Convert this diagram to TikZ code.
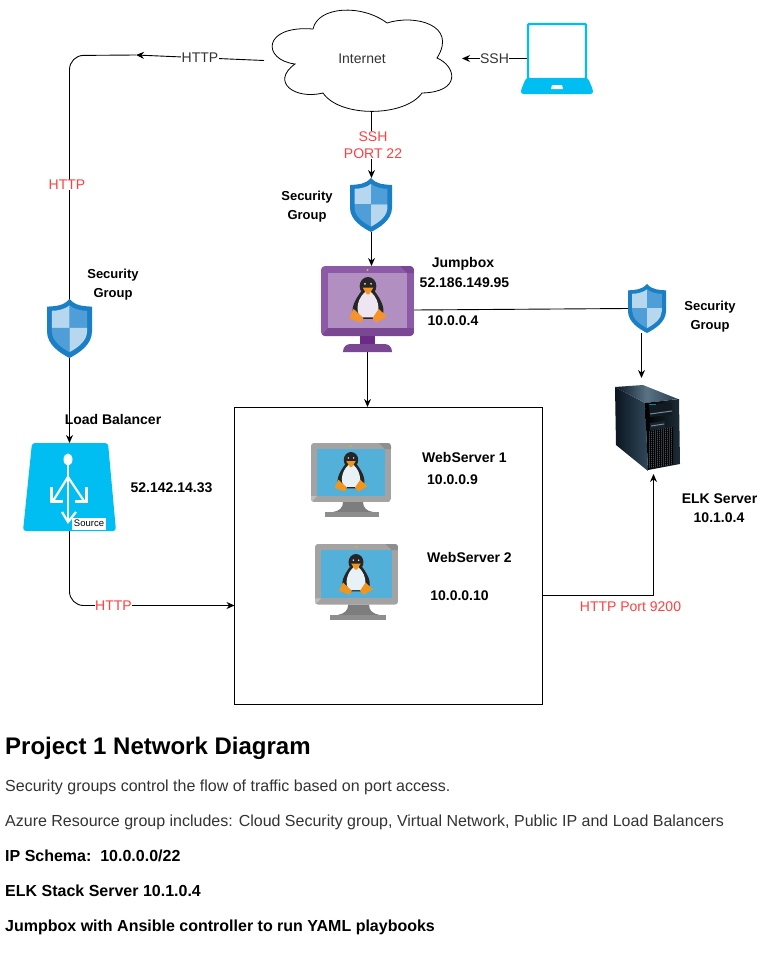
\documentclass[tikz,border=0pt]{standalone}
\usepackage{fontspec}
\setmainfont{Liberation Sans}
\usetikzlibrary{arrows.meta,shadings}
\definecolor{cyanlb}{HTML}{00BEF2}
\definecolor{netred}{HTML}{FF4040}
\definecolor{bodytxt}{HTML}{333333}
\definecolor{shO}{HTML}{1B7FC6}
\definecolor{shD}{HTML}{0F6CB8}
\definecolor{shL}{HTML}{B7D7EE}
\definecolor{shM}{HTML}{4F9ED8}
\newcommand{\fz}[1]{\fontsize{#1}{1.2\dimexpr #1pt\relax}\selectfont}
\tikzset{
  x=1pt,y=-1pt,
  anchorbox/.style={minimum width=#1,inner sep=0pt,outer sep=0pt},
  link/.style={draw=black,line width=0.9pt},
  arrowlink/.style={link,-{Stealth[length=8pt,width=7pt]}},
  blabel/.style={font=\fz{14}\bfseries,align=center,inner sep=0pt,text=black},
  glabel/.style={font=\fz{13}\bfseries,align=center,inner sep=0pt,text=black},
  wlabel/.style={font=\fz{14},fill=white,inner sep=0.4pt,text=bodytxt},
  rlabel/.style={font=\fz{14},fill=white,inner sep=0.4pt,text=netred,align=center},
  para/.style={font=\fz{16},anchor=base west,inner sep=0pt,text=bodytxt},
  parab/.style={font=\fz{16}\bfseries,anchor=base west,inner sep=0pt,text=black},
  shieldicon/.pic={
    \fill[shO] (0,0) .. controls (0.14,0.12) and (0.3,0.12) .. (0.5,0.13) -- (0.5,0.55)
      .. controls (0.5,0.78) and (0.2,0.92) .. (0,1) .. controls (-0.2,0.92) and (-0.5,0.78) .. (-0.5,0.55)
      -- (-0.5,0.13) .. controls (-0.3,0.12) and (-0.14,0.12) .. (0,0) -- cycle;
    \fill[shL] (0,0.11) .. controls (-0.1,0.17) and (-0.25,0.2) .. (-0.39,0.2) -- (-0.39,0.49) -- (0,0.49) -- cycle;
    \fill[shM] (0,0.11) .. controls (0.1,0.17) and (0.25,0.2) .. (0.39,0.2) -- (0.39,0.49) -- (0,0.49) -- cycle;
    \fill[shM] (-0.39,0.49) -- (0,0.49) -- (0,0.9) .. controls (-0.2,0.82) and (-0.39,0.7) .. (-0.39,0.55) -- cycle;
    \fill[shL] (0.39,0.49) -- (0,0.49) -- (0,0.9) .. controls (0.2,0.82) and (0.39,0.7) .. (0.39,0.55) -- cycle;
  },
  penguinicon/.pic={
    \fill[pdark] (0,24) ellipse [x radius=22,y radius=24];
    \fill[pdark] (-16,35) .. controls (-34,60) and (-50,85) .. (-34,110) -- (34,110) .. controls (50,85) and (34,60) .. (16,35) -- cycle;
    \fill[pbelly] (0,34) .. controls (-28,50) and (-36,92) .. (-18,106) -- (18,106) .. controls (36,92) and (28,50) .. (0,34) -- cycle;
    \fill[pbelly] (-8,18) circle (2.5) (8,18) circle (2.5);
    \fill[pfoot] (-14,28) -- (14,28) -- (3,46) -- (-3,46) -- cycle;
    \fill[pfoot] (-38,84) -- (-12,108) -- (-20,120) -- (-50,108) -- cycle;
    \fill[pfoot] (28,84) -- (50,104) -- (22,120) -- (12,108) -- cycle;
  },
  pmonitor/.pic={
    \begin{scope}
    \clip[rounded corners=4pt] (0,0) rectangle (93,70);
    \fill[pframe] (0,0) rectangle (93,70);
    \fill[pdeep] (93,0) -- (93,7) -- (86,7) -- (79,0) -- cycle;
    \fill[pdeep] (7,62) -- (93,62) -- (93,70) -- (0,70) -- cycle;
    \end{scope}
    \fill[pscreen] (7,7) rectangle (86,62);
    \fill[pneck] (39,70) rectangle (54,78);
    \fill[pdeep] (22,86) .. controls (22,80) and (26,78) .. (30,78) -- (63,78) .. controls (67,78) and (71,80) .. (71,86) -- cycle;
    \fill[pdot] (46.5,4) circle (1.2);
  },
  gmonitor/.pic={
    \begin{scope}
    \clip[rounded corners=3pt] (0,0) rectangle (80,59);
    \fill[gframe] (0,0) rectangle (80,59);
    \fill[gdeep] (80,0) -- (80,6) -- (74,6) -- (68,0) -- cycle;
    \fill[gframe!70!white] (0,59) -- (0,53) -- (6,53) -- (0,59) -- cycle;
    \end{scope}
    \fill[gscreen] (6,6) rectangle (74,53);
    \fill[gneck] (32,59) -- (52,59) .. controls (52,65) and (56,68) .. (62,69) -- (22,69) .. controls (28,68) and (32,65) .. (32,59) -- cycle;
    \fill[gdeep] (14,69) rectangle (68,74);
    \fill[pdot] (40,3) circle (1);
  }
}
\colorlet{pdark}{black!85}\colorlet{pbelly}{white}\colorlet{pfoot}{orange}
\definecolor{pdot}{HTML}{B6C832}
\definecolor{gframe}{HTML}{A3A3A3}\definecolor{gdeep}{HTML}{8E8E8E}\definecolor{gscreen}{HTML}{52B0D9}\definecolor{gneck}{HTML}{7D7D7D}
\definecolor{pframe}{HTML}{8C5AA6}\definecolor{pdeep}{HTML}{7A4793}\definecolor{pscreen}{HTML}{B28FC1}\definecolor{pneck}{HTML}{6B2A85}
\definecolor{srvA}{HTML}{0B1620}\definecolor{srvB}{HTML}{3C5A70}
\begin{document}
\begin{tikzpicture}
\useasboundingbox (0,0) rectangle (771,969);
\fill[white] (0,0) rectangle (771,969);

% ---- cloud
\draw[black,line width=0.8pt,fill=white]
  (313,29) .. controls (318,6) and (362,4) .. (387,23)
  .. controls (415,14) and (458,25) .. (437,58)
  .. controls (456,66) and (462,92) .. (422,93)
  .. controls (405,117) and (340,118) .. (323,93)
  .. controls (295,100) and (270,82) .. (295,64)
  .. controls (262,60) and (262,25) .. (313,29) -- cycle;
\node[anchorbox=189pt,minimum height=101pt] (cloud) at (358.5,60.5) {};
\node[font=\fz{14},text=bodytxt,inner sep=0pt] (cloudtxt) at (362,59) {Internet};
\coordinate (cloudE) at (462,58.5);

% ---- laptop
\draw[cyanlb,line width=2.4pt,rounded corners=1pt,fill=white] (528,24) rectangle (586,79);
\fill[cyanlb,rounded corners=2.5pt] (526,78) -- (588,78) -- (593,90) -- (593,94) -- (521,94) -- (521,90) -- cycle;
\fill[white] (551,89) -- (552,85) -- (562,85) -- (563,89) -- cycle;
\node[anchorbox=60pt,minimum height=70pt] (laptop) at (557,58.5) {};

% ---- shields
\node[anchorbox=42pt,minimum height=54pt] (shtop) at (371.5,205) {};
\pic[xscale=42,yscale=54] at (371,178) {shieldicon};
\node[anchorbox=45pt,minimum height=59pt] (shleft) at (69.5,328.5) {};
\pic[xscale=45,yscale=59] at (69.5,299) {shieldicon};
\node[anchorbox=38pt,minimum height=49pt] (shright) at (647,308.5) {};
\pic[xscale=38,yscale=49] at (647,284) {shieldicon};

% ---- jumpbox monitor
\node[anchorbox=93pt,minimum height=86pt] (jump) at (367.5,309) {};
\pic at (321,266) {pmonitor};
\begin{scope}
\definecolor{pbelly}{HTML}{EDE6F0}\definecolor{pfoot}{HTML}{F6932A}
\pic[scale=0.38] at (368,277) {penguinicon};
\end{scope}

% ---- web servers
\node[anchorbox=80pt,minimum height=74pt] (ws1) at (351,480) {};
\pic at (311,443) {gmonitor};
\node[anchorbox=83pt,minimum height=76pt] (ws2) at (356.5,582) {};
\pic[xscale=1.0375,yscale=1.027] at (315,544) {gmonitor};
\definecolor{pbelly}{HTML}{E8F2F6}\definecolor{pfoot}{HTML}{F0961E}
\pic[scale=0.33] at (351,452) {penguinicon};
\pic[scale=0.34] at (356,554) {penguinicon};

% ---- big box
\node[anchorbox=308pt,minimum height=297pt,draw=black,line width=0.9pt] (vnet) at (388.5,555.5) {};

% ---- load balancer
\fill[cyanlb,rounded corners=3pt] (32,443) -- (108,443) -- (116,531) -- (23,531) -- cycle;
\node[anchorbox=93pt,minimum height=88pt] (lb) at (69.5,487) {};
\begin{scope}[white,line width=2.2pt]
\fill (68,459.5) ellipse [x radius=4.5,y radius=6];
\draw (68,465) -- (68,522);
\draw (68,477) -- (53,501);
\draw (68,477) -- (84,501);
\draw (51.5,487) -- (51.5,501.5) -- (63,501.5);
\draw (86.5,487) -- (86.5,501.5) -- (75,501.5);
\draw (62,512) -- (68,522) -- (76,512);
\end{scope}
\node[fill=white,font=\fz{9.5},inner sep=0.5pt,minimum width=34pt,minimum height=12pt,text=black] (lbsrc) at (89,523.5) {Source};

% ---- ELK server
\shade[left color=srvA,right color=srvB!80!black] (615,387) -- (645,403) -- (648,471) -- (616,445) -- cycle;
\shade[left color=srvA,right color=srvB!70!black,middle color=srvB!85!white] (615,387) -- (643,385) -- (678,399) -- (645,403) -- cycle;
\shade[left color=black,right color=srvB!50!black] (645,403) -- (679,399) -- (680,464) -- (648,470) -- cycle;
\fill[black!70!srvB] (649,405) -- (672,403) -- (672,415) -- (650,417) -- cycle;
\fill[srvB!70!white] (650,413.5) -- (672,410.5) -- (672,411.5) -- (650,414.5) -- cycle;
\fill[black!60!srvB] (650,423) -- (665,421) -- (665,428) -- (650,430) -- cycle;
\fill[srvB!70!white] (651,425.5) -- (664,423.5) -- (664,424.5) -- (651,426.5) -- cycle;
\fill[cyanlb!70!black] (649,403.8) rectangle (656,405.2);
\begin{scope}
\clip (649,431) -- (673,427) -- (673,464.5) -- (649,468) -- cycle;
\fill[black!60!srvB!80!white] (649,426) rectangle (673,469);
\foreach \gx in {650,652,...,672} {\draw[black,line width=0.5pt] (\gx,426) -- (\gx,469);}
\foreach \gy in {430,432,...,470} {\draw[black,line width=0.5pt] (649,\gy) -- (673,\gy-3.5);}
\end{scope}
\node[anchorbox=65pt,minimum height=90pt] (elk) at (647.5,429) {};

% ---- connectors
\coordinate (httpbend) at (136,55);
\draw[arrowlink] (cloud.west) -- (httpbend) node[wlabel,pos=0.5] (lhttp) {HTTP};
\draw[link,rounded corners=14pt] (httpbend) -- (69.5,55.5) -- (69.5,299);
\node[rlabel] (lhttpr) at (67,185) {HTTP};

\draw[arrowlink] (laptop.west) -- (cloudE) node[wlabel,pos=0.5] (lssh) {SSH};

\draw[arrowlink] (cloud.south -| shtop) -- (shtop.north);
\node[rlabel] (lport) at (373,145) {SSH\\PORT 22};
\draw[arrowlink] (shtop.south) -- (jump.north -| shtop);
\draw[arrowlink] (jump.south) -- (vnet.north -| jump);
\draw[link] (414,310) -- (shright.west);
\draw[arrowlink] (641.5,333) -- (641.5,378);
\draw[arrowlink] (shleft.south) -- (lb.north -| shleft);
\draw[arrowlink,rounded corners=14pt] (lb.south) -- (69.5,605.5) -- (vnet.west |- 0,605.5);
\node[rlabel] (lhttpb) at (113.5,606) {HTTP};
\draw[arrowlink] (vnet.east |- 0,595.5) -- (653.5,595.5) -- (653.5,474);
\node[rlabel] (lelk) at (630.5,607) {HTTP Port 9200};

% ---- labels
\node[glabel] (t1) at (307,206.5) {Security\\[3.4pt]Group};
\node[glabel] (t2) at (113,284.5) {Security\\[3.4pt]Group};
\node[glabel] (t3) at (710,316.5) {Security\\[3.4pt]Group};
\node[blabel] (t4) at (463,263.5) {Jumpbox};
\node[blabel] (t5) at (464.5,282.5) {52.186.149.95};
\node[blabel] (t6) at (453,320.5) {10.0.0.4};
\node[blabel] (t7) at (113,419) {Load Balancer};
\node[blabel] (t8) at (171.5,488) {52.142.14.33};
\node[blabel] (t9) at (464.5,457) {WebServer 1};
\node[blabel] (t10) at (452.5,480) {10.0.0.9};
\node[blabel] (t11) at (469.5,557) {WebServer 2};
\node[blabel] (t12) at (459.5,595.5) {10.0.0.10};
\node[blabel] (t13) at (719.5,499) {ELK Server};
\node[blabel] (t14) at (719,518) {10.1.0.4};

% ---- text block
\node[font=\fz{24}\bfseries,anchor=base west,inner sep=0pt,text=black] (h1) at (5,754) {Project 1 Network Diagram};
\node[para] (p1) at (5,791) {Security groups control the flow of traffic based on port access.};
\node[para] (p2) at (5,826) {Azure Resource group includes: Cloud Security group, Virtual Network, Public IP and Load Balancers};
\node[parab] (p3) at (5,861) {IP Schema:\ \ 10.0.0.0/22};
\node[parab] (p4) at (5,896) {ELK Stack Server 10.1.0.4};
\node[parab] (p5) at (5,931) {Jumpbox with Ansible controller to run YAML playbooks};
\end{tikzpicture}
\end{document}
